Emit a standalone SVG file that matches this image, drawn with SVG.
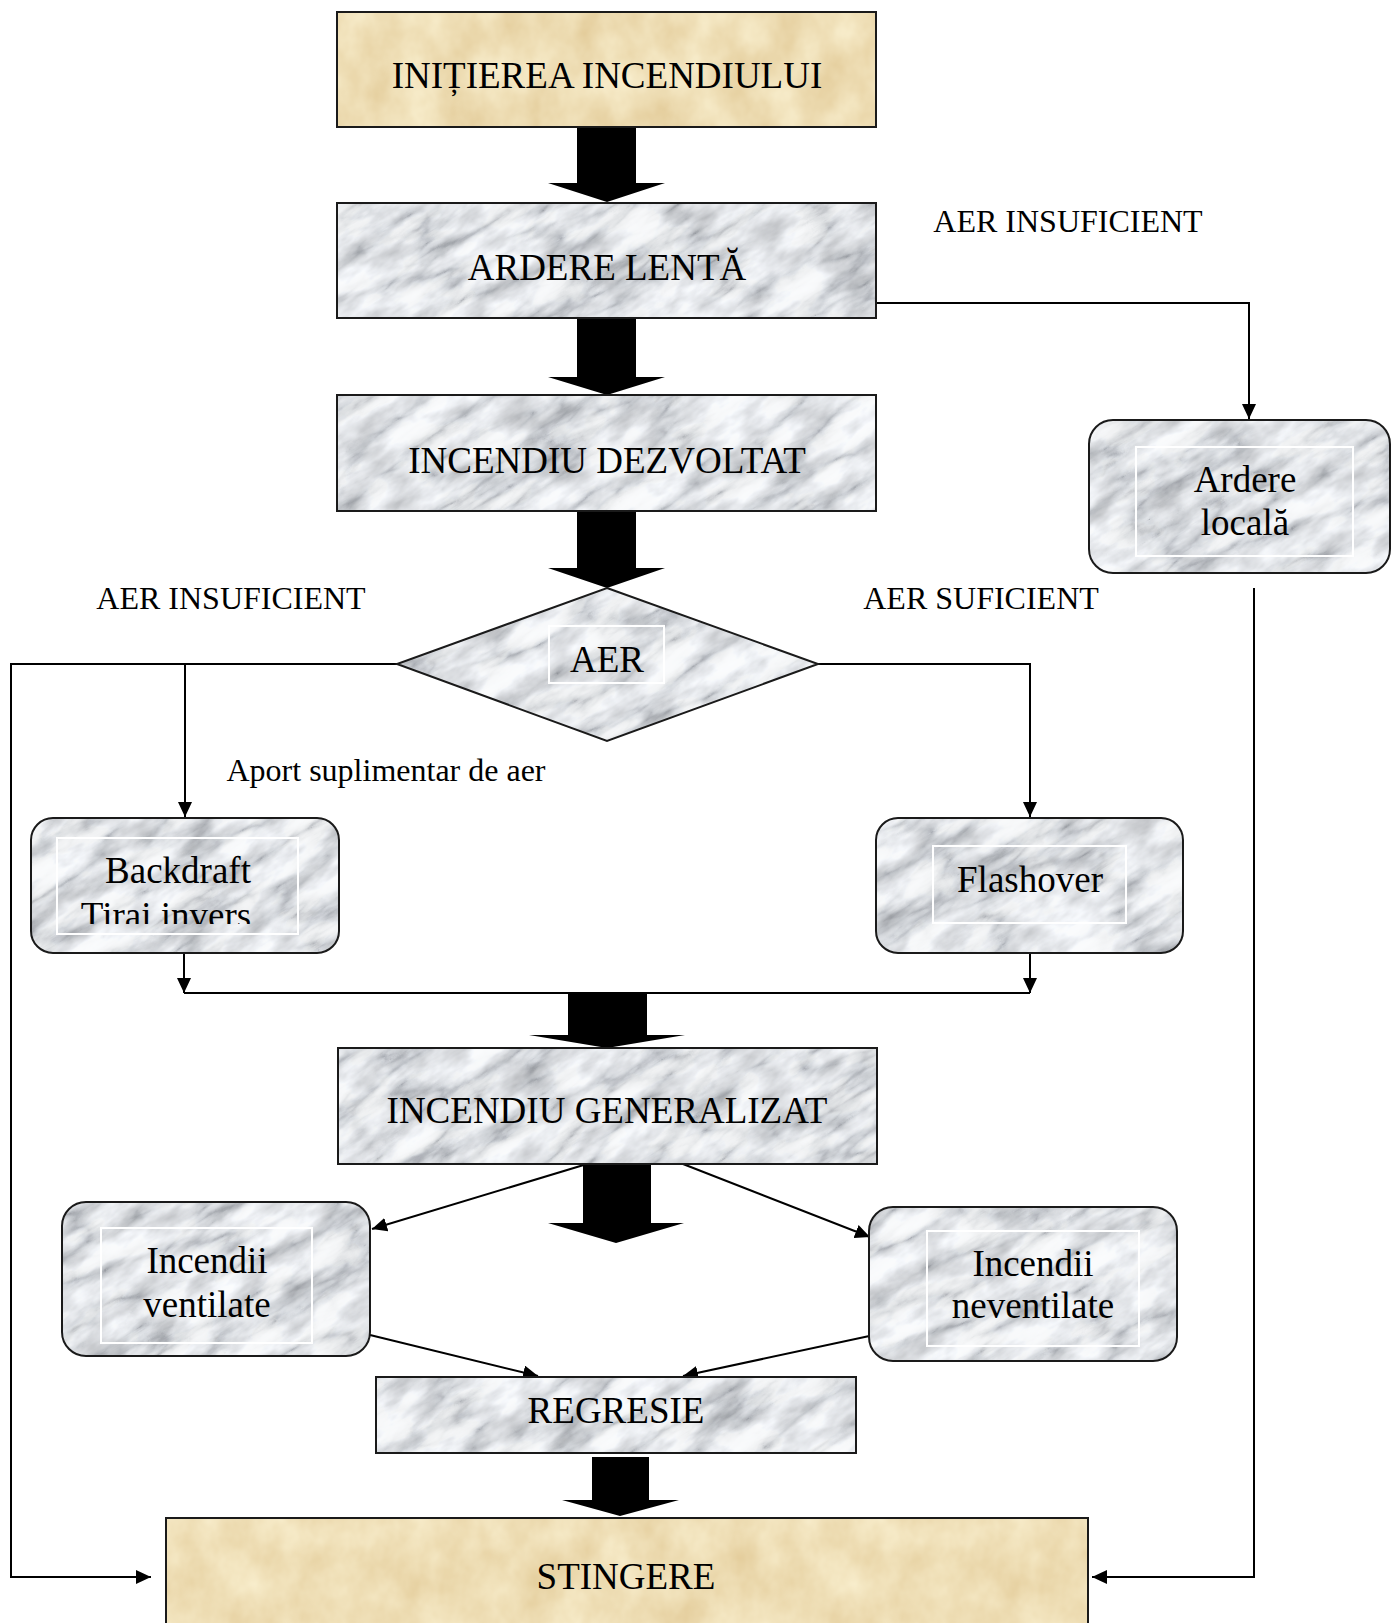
<svg xmlns="http://www.w3.org/2000/svg" width="1392" height="1623" viewBox="0 0 1392 1623">
  <defs>
    <style>
      .box { stroke: #1a1a1a; stroke-width: 2; }
      .marble { fill: url(#marble); }
      .parch { fill: url(#parchment); }
      .inner { fill: none; stroke: #ffffff; stroke-width: 2; }
      .lbl { font-family: "Liberation Serif", "Times New Roman", serif; font-size: 37px; fill: #000; text-anchor: middle; }
      .edge-lbl { font-family: "Liberation Serif", "Times New Roman", serif; font-size: 32px; fill: #000; text-anchor: middle; }
      .wire { fill: none; stroke: #000; stroke-width: 2; }
      .block { fill: #000; }
    </style>

    <!-- grey marble: soft broken veins over light clouds, tileable -->
    <filter id="marbleFx" filterUnits="userSpaceOnUse" x="0" y="0" width="700" height="700" color-interpolation-filters="sRGB">
      <feTurbulence type="turbulence" baseFrequency="0.009 0.03" numOctaves="5" seed="4" stitchTiles="stitch" result="t"/>
      <feColorMatrix in="t" type="matrix" values="1 0 0 0 0  1 0 0 0 0  1 0 0 0 0  0 0 0 0 1" result="tg"/>
      <feComponentTransfer in="tg" result="veins">
        <feFuncR type="table" tableValues="0.70 0.86 0.94 0.97 0.98 0.985 0.985"/>
        <feFuncG type="table" tableValues="0.71 0.87 0.945 0.975 0.985 0.99 0.99"/>
        <feFuncB type="table" tableValues="0.73 0.88 0.95 0.98 0.99 0.995 0.995"/>
      </feComponentTransfer>
      <feTurbulence type="fractalNoise" baseFrequency="0.02 0.045" numOctaves="4" seed="9" stitchTiles="stitch" result="f"/>
      <feColorMatrix in="f" type="matrix" values="0.45 0 0 0 0.735  0.45 0 0 0 0.74  0.45 0 0 0 0.75  0 0 0 0 1" result="clouds"/>
      <feComposite in="veins" in2="clouds" operator="arithmetic" k1="1" k2="0" k3="0" k4="0"/>
    </filter>

    <!-- warm parchment with faint mottling -->
    <filter id="parchFx" filterUnits="userSpaceOnUse" x="0" y="0" width="600" height="600" color-interpolation-filters="sRGB">
      <feTurbulence type="fractalNoise" baseFrequency="0.025 0.02" numOctaves="4" seed="2" stitchTiles="stitch" result="n"/>
      <feColorMatrix in="n" type="matrix" values="0.10 0 0 0 0.885  0.16 0 0 0 0.79  0.24 0 0 0 0.59  0 0 0 0 1"/>
    </filter>

    <pattern id="marble" patternUnits="userSpaceOnUse" width="700" height="700" patternTransform="rotate(-32)">
      <rect width="700" height="700" filter="url(#marbleFx)"/>
    </pattern>
    <pattern id="parchment" patternUnits="userSpaceOnUse" width="600" height="600">
      <rect width="600" height="600" filter="url(#parchFx)"/>
    </pattern>

    <marker id="arr" viewBox="0 0 15 14" refX="15" refY="7" markerWidth="15" markerHeight="14" markerUnits="userSpaceOnUse" orient="auto">
      <path d="M0,0 L15,7 L0,14 z" fill="#000"/>
    </marker>

    <clipPath id="backdraftClip">
      <rect x="57" y="838" width="241" height="86"/>
    </clipPath>
  </defs>

  <rect width="1392" height="1623" fill="#ffffff"/>

  <!-- connectors -->
  <g id="connectors">
    <!-- thin flow lines -->
    <path class="wire" d="M876,303 H1249 V419" marker-end="url(#arr)"/>
    <path class="wire" d="M397,664 H11 V1577 H151" marker-end="url(#arr)"/>
    <path class="wire" d="M185,664 V817" marker-end="url(#arr)"/>
    <path class="wire" d="M818,664 H1030 V817" marker-end="url(#arr)"/>
    <path class="wire" d="M184,953 V993" marker-end="url(#arr)"/>
    <path class="wire" d="M1030,953 V993" marker-end="url(#arr)"/>
    <path class="wire" d="M184,993 H1030"/>
    <path class="wire" d="M587,1164 L372,1229" marker-end="url(#arr)"/>
    <path class="wire" d="M683,1164 L870,1237" marker-end="url(#arr)"/>
    <path class="wire" d="M370,1335 L538,1376" marker-end="url(#arr)"/>
    <path class="wire" d="M874,1335 L683,1376" marker-end="url(#arr)"/>
    <path class="wire" d="M1254,588 V1577 H1092" marker-end="url(#arr)"/>

    <!-- heavy block arrows along the main sequence -->
    <polygon class="block" points="577,127 636,127 636,183 665,183 607,202 548,183 577,183"/>
    <polygon class="block" points="577,318 636,318 636,377 665,377 607,395 548,377 577,377"/>
    <polygon class="block" points="577,511 636,511 636,568 665,568 607,588 548,568 577,568"/>
    <polygon class="block" points="568,993 647,993 647,1035 685,1035 607,1048 529,1035 568,1035"/>
    <polygon class="block" points="583,1164 651,1164 651,1223 684,1223 616,1243 548,1223 583,1223"/>
    <polygon class="block" points="592,1457 649,1457 649,1500 679,1500 620,1516 562,1500 592,1500"/>

    <!-- branch labels -->
    <text class="edge-lbl" x="1068" y="232">AER INSUFICIENT</text>
    <text class="edge-lbl" x="231" y="609">AER INSUFICIENT</text>
    <text class="edge-lbl" x="981" y="609">AER SUFICIENT</text>
    <text class="edge-lbl" x="386" y="781">Aport suplimentar de aer</text>
  </g>

  <g id="initierea">
    <rect class="box parch" x="337" y="12" width="539" height="115"/>
    <text class="lbl" x="607" y="88">INIȚIEREA INCENDIULUI</text>
  </g>

  <g id="ardere-lenta">
    <rect class="box marble" x="337" y="203" width="539" height="115"/>
    <text class="lbl" x="607" y="280">ARDERE LENTĂ</text>
  </g>

  <g id="incendiu-dezvoltat">
    <rect class="box marble" x="337" y="395" width="539" height="116"/>
    <text class="lbl" x="607" y="473">INCENDIU DEZVOLTAT</text>
  </g>

  <g id="aer">
    <polygon class="box marble" points="607,588 818,664 607,741 397,664"/>
    <rect class="inner" x="549" y="626" width="115" height="57"/>
    <text class="lbl" x="607" y="672">AER</text>
  </g>

  <g id="ardere-locala">
    <rect class="box marble" x="1089" y="420" width="301" height="153" rx="24"/>
    <rect class="inner" x="1136" y="447" width="217" height="109"/>
    <text class="lbl" x="1245" y="492">Ardere</text>
    <text class="lbl" x="1245" y="535">locală</text>
  </g>

  <g id="backdraft">
    <rect class="box marble" x="31" y="818" width="308" height="135" rx="22"/>
    <rect class="inner" x="57" y="838" width="241" height="96"/>
    <text class="lbl" x="178" y="883">Backdraft</text>
    <text class="lbl" x="166" y="928" clip-path="url(#backdraftClip)">Tirai invers</text>
  </g>

  <g id="flashover">
    <rect class="box marble" x="876" y="818" width="307" height="135" rx="22"/>
    <rect class="inner" x="933" y="846" width="193" height="77"/>
    <text class="lbl" x="1030" y="892">Flashover</text>
  </g>

  <g id="incendiu-generalizat">
    <rect class="box marble" x="338" y="1048" width="539" height="116"/>
    <text class="lbl" x="607" y="1123">INCENDIU GENERALIZAT</text>
  </g>

  <g id="incendii-ventilate">
    <rect class="box marble" x="62" y="1202" width="308" height="154" rx="24"/>
    <rect class="inner" x="101" y="1228" width="211" height="115"/>
    <text class="lbl" x="207" y="1273">Incendii</text>
    <text class="lbl" x="207" y="1317">ventilate</text>
  </g>

  <g id="incendii-neventilate">
    <rect class="box marble" x="869" y="1207" width="308" height="154" rx="24"/>
    <rect class="inner" x="927" y="1231" width="212" height="115"/>
    <text class="lbl" x="1033" y="1276">Incendii</text>
    <text class="lbl" x="1033" y="1318">neventilate</text>
  </g>

  <g id="regresie">
    <rect class="box marble" x="376" y="1377" width="480" height="76"/>
    <text class="lbl" x="616" y="1423">REGRESIE</text>
  </g>

  <g id="stingere">
    <rect class="box parch" x="166" y="1518" width="922" height="115"/>
    <text class="lbl" x="626" y="1589">STINGERE</text>
  </g>
</svg>
